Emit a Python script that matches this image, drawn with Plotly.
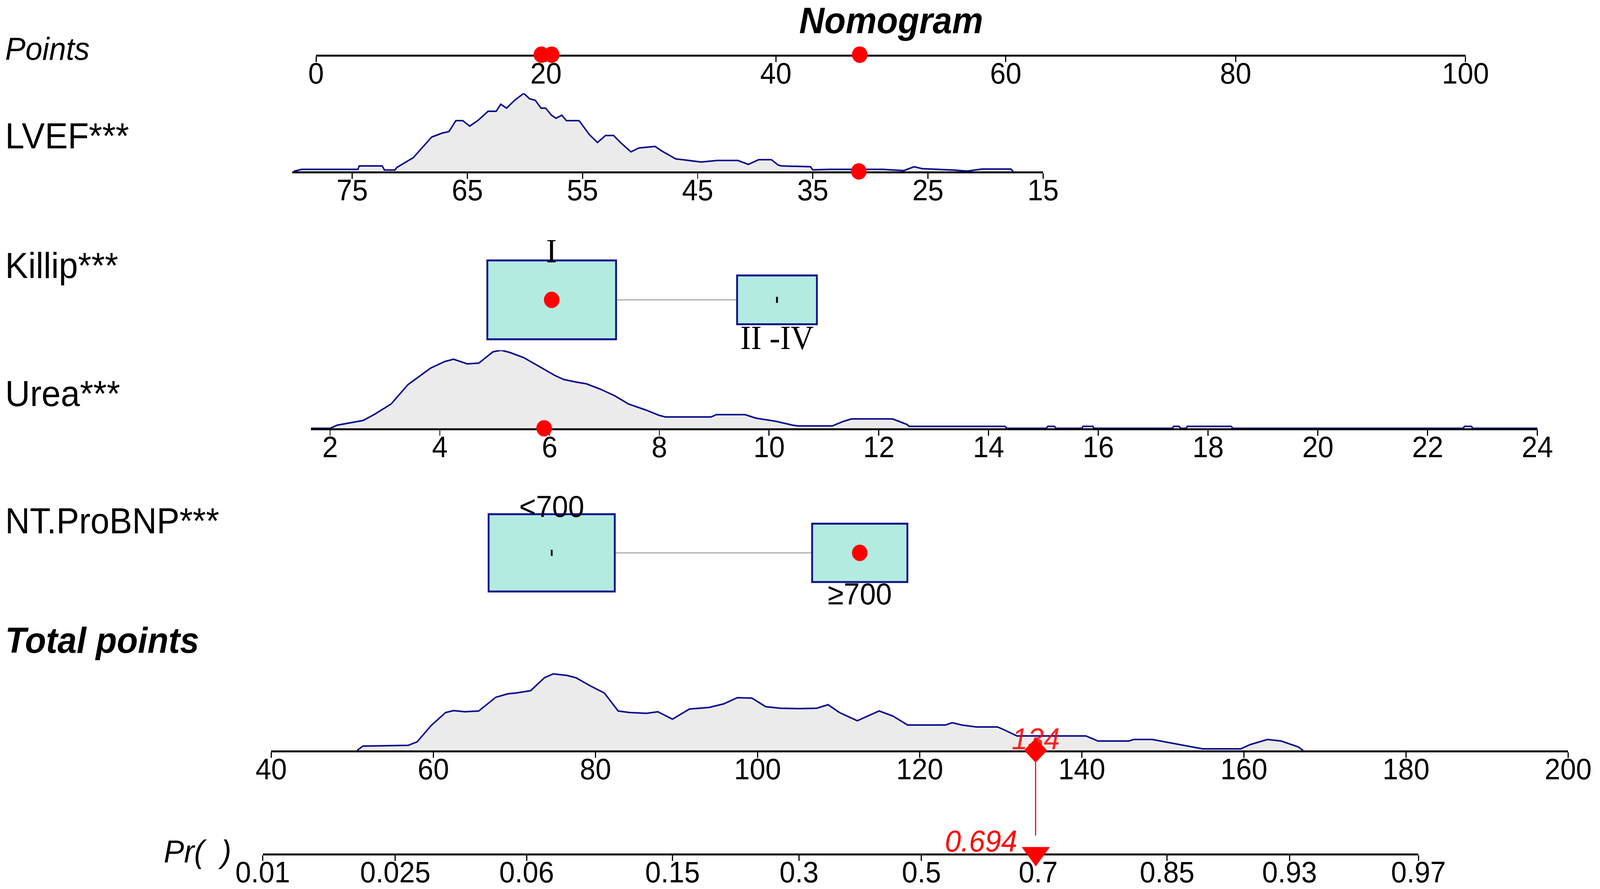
import plotly.graph_objects as go

W, H = 4318, 2277
FONT = 'Liberation Sans, Arial, sans-serif'
SERIF = 'Liberation Serif, Times New Roman, serif'

# ---- values ----
points_ticks = [0, 20, 40, 60, 80, 100]
lvef_ticks = [75, 65, 55, 45, 35, 25, 15]
urea_ticks = [2, 4, 6, 8, 10, 12, 14, 16, 18, 20, 22, 24]
total_ticks = [40, 60, 80, 100, 120, 140, 160, 180, 200]
pr_labels = ['0.01', '0.025', '0.06', '0.15', '0.3', '0.5', '0.7', '0.85', '0.93', '0.97']
pr_at_total = [38.95, 55.3, 71.5, 89.5, 105.1, 120.2, 134.6, 150.5, 165.6, 181.5]

# distributions (relative density, peak = 1)
lvef_value = [80.1, 79.4, 74.5, 74.4, 72.4, 72.2, 71.3, 71.1, 69.7, 69.0,
              68.1, 67.2, 66.6, 66.0, 65.4, 64.8, 64.1, 63.2, 62.5, 62.1,
              61.6, 60.9, 60.1, 59.6, 59.1, 58.6, 58.2, 57.7, 57.3, 56.8,
              56.4, 55.9, 55.3, 54.4, 53.7, 53.0, 52.3, 51.7, 50.8, 50.1,
              48.7, 48.1, 46.9, 46.3, 44.7, 43.3, 41.5, 40.6, 39.7, 38.6,
              38.0, 37.7, 35.2, 35.0, 33.5, 28.9, 27.1, 26.2, 25.5, 22.8,
              21.6, 20.3, 17.8, 17.6]
lvef_density = [0, 0.026, 0.026, 0.07, 0.07, 0.018, 0.018, 0.053, 0.175, 0.29,
                0.44, 0.49, 0.51, 0.65, 0.65, 0.58, 0.65, 0.77, 0.77, 0.86,
                0.81, 0.91, 1.0, 0.93, 0.91, 0.81, 0.81, 0.72, 0.68, 0.72,
                0.65, 0.65, 0.65, 0.47, 0.37, 0.46, 0.46, 0.37, 0.25, 0.30,
                0.32, 0.26, 0.16, 0.15, 0.12, 0.14, 0.14, 0.09, 0.15, 0.15,
                0.08, 0.07, 0.06, 0.02, 0.026, 0.026, 0.01, 0.06, 0.035, 0.018,
                0.004, 0.03, 0.03, 0]

urea_value = [1.65, 2.0, 2.13, 2.6, 2.8, 3.11, 3.42, 3.83, 4.09, 4.25,
              4.5, 4.71, 4.97, 5.12, 5.28, 5.53, 5.79, 6.1, 6.26, 6.46,
              6.67, 6.93, 7.19, 7.44, 7.75, 8.0, 8.11, 8.94, 9.04, 9.56,
              9.76, 10.12, 10.43, 10.53, 11.15, 11.36, 11.5, 12.25, 12.38, 12.51,
              12.55, 14.3, 14.33, 15.05, 15.08, 15.2, 15.23, 15.7, 15.72, 15.9,
              15.92, 17.35, 17.37, 17.47, 17.5, 17.6, 17.62, 18.42, 18.45, 22.65,
              22.67, 22.8, 22.82, 24.0]
urea_density = [0, 0, 0.04, 0.1, 0.175, 0.31, 0.56, 0.77, 0.855, 0.885,
                0.825, 0.835, 0.98, 1.0, 0.97, 0.905, 0.8, 0.675, 0.625, 0.595,
                0.57, 0.5, 0.415, 0.31, 0.235, 0.165, 0.145, 0.145, 0.175, 0.175,
                0.13, 0.09, 0.04, 0.03, 0.03, 0.09, 0.12, 0.12, 0.085, 0.05,
                0.025, 0.025, 0, 0, 0.025, 0.025, 0, 0, 0.025, 0.025,
                0, 0, 0.025, 0.025, 0, 0, 0.025, 0.025, 0, 0,
                0.025, 0.025, 0, 0]

total_value = [50.6, 51.3, 56.9, 58.0, 59.7, 61.5, 62.5, 63.9, 65.6, 67.7,
               69.2, 70.2, 72.0, 73.7, 74.8, 76.5, 77.6, 79.3, 81.1, 82.8,
               84.2, 86.3, 87.7, 89.5, 91.6, 94.0, 95.8, 97.5, 99.3, 101.0,
               102.8, 105.2, 107.3, 108.7, 110.1, 112.3, 115.0, 116.7, 118.5, 123.2,
               124.0, 125.2, 127.0, 129.6, 130.5, 132.0, 140.5, 142.0, 145.8, 146.4,
               148.7, 151.1, 152.9, 154.9, 159.6, 160.8, 162.9, 164.6, 166.7, 167.3]
total_density = [0, 0.055, 0.065, 0.11, 0.315, 0.485, 0.51, 0.495, 0.505, 0.68,
                 0.725, 0.735, 0.765, 0.93, 0.98, 0.96, 0.93, 0.83, 0.735, 0.505,
                 0.485, 0.475, 0.495, 0.4, 0.53, 0.55, 0.595, 0.675, 0.67, 0.56,
                 0.54, 0.535, 0.54, 0.585, 0.485, 0.38, 0.505, 0.44, 0.325, 0.325,
                 0.355, 0.325, 0.3, 0.3, 0.26, 0.185, 0.185, 0.12, 0.12, 0.14,
                 0.14, 0.095, 0.06, 0.02, 0.02, 0.075, 0.14, 0.12, 0.045, 0]

# categorical predictors: points of each level and relative box size (frequency)
killip_levels = ['I', 'II -IV']
killip_points = [20.5, 40.1]
killip_size = [1.0, 0.62]
ntbnp_levels = ['<700', '≥700']
ntbnp_points = [20.5, 47.3]
ntbnp_size = [0.98, 0.74]

# the highlighted patient
patient_lvef = 31
patient_killip = 'I'
patient_urea = 5.9
patient_ntbnp = '≥700'
patient_points = [47.3, 20.5, 19.6, 47.3]
patient_total = 134.3
patient_pr = 0.694

# ---- layout helpers (pixel positions of the rows) ----
def fx(px):
    return px / W


def fy(py):
    return 1 - py / H


RED = '#ff0000'
NAVY = '#0c0c8c'
BOX_LINE = '#12128c'
BOX_FILL = '#b3ebe1'
BOX_W = 11.2   # points, for size 1
BOX_H = 202    # px, for size 1

axis_style = dict(showline=True, linecolor='black', linewidth=5, ticks='outside',
                  ticklen=14, tickwidth=3, tickcolor='black', showgrid=False,
                  zeroline=False, layer='below traces', fixedrange=True,
                  ticklabelstandoff=-36,
                  tickfont=dict(family=FONT, size=76, color='black'))

fig = go.Figure()
layout = {}


def row(n, x_rng, x_px, y_rng, y_px, ticks=None, ticktext=None):
    xa = 'xaxis' if n == 1 else 'xaxis%d' % n
    ya = 'yaxis' if n == 1 else 'yaxis%d' % n
    xr = 'x' if n == 1 else 'x%d' % n
    yr = 'y' if n == 1 else 'y%d' % n
    if ticks is None:
        layout[xa] = dict(domain=[fx(x_px[0]), fx(x_px[1])], range=x_rng, anchor=yr,
                          visible=False, fixedrange=True)
    else:
        ax = dict(axis_style)
        ax.update(domain=[fx(x_px[0]), fx(x_px[1])], range=x_rng, anchor=yr,
                  tickmode='array', tickvals=ticks,
                  ticktext=ticktext if ticktext else [str(t) for t in ticks])
        layout[xa] = ax
    layout[ya] = dict(domain=[fy(y_px[0]), fy(y_px[1])], range=y_rng, anchor=xr,
                      visible=False, fixedrange=True)
    return xr, yr


# rows: points, LVEF, Killip, Urea, NT.ProBNP, total points, probability
x1, y1 = row(1, [0, 100], (853, 3955), [0, 1], (140, 90), points_ticks)
x2, y2 = row(2, [80.2, 15], (789, 2815), [0, 1], (439, 239), lvef_ticks)
x3, y3 = row(3, [0, 100], (853, 3955), [-110, 110], (878, 658))
x4, y4 = row(4, [1.65, 24], (839, 4149), [0, 1], (1097, 897), urea_ticks)
x5, y5 = row(5, [0, 100], (853, 3955), [-110, 110], (1526, 1306))
x6, y6 = row(6, [40, 200], (732, 4232), [0, 1], (1922, 1722), total_ticks)
x7, y7 = row(7, [38.95, 181.5], (709, 3828), [0, 1], (2186, 2136), pr_at_total, pr_labels)


def density(xs, ys, xr, yr):
    fig.add_trace(go.Scatter(x=xs, y=ys, xaxis=xr, yaxis=yr, mode='lines',
                             fill='tozeroy', fillcolor='#ebebeb',
                             line=dict(color=NAVY, width=4), hoverinfo='skip',
                             showlegend=False))


def red_dot(xs, xr, yr, y=0):
    fig.add_trace(go.Scatter(x=xs, y=[y] * len(xs), xaxis=xr, yaxis=yr, mode='markers',
                             marker=dict(color=RED, size=42, line=dict(width=0)),
                             cliponaxis=False, showlegend=False, hoverinfo='skip'))


shapes = []
annotations = []


def category_row(levels, pts, sizes, chosen, xr, yr, label_side):
    shapes.append(dict(type='line', xref=xr, yref=yr,
                       x0=pts[0] + sizes[0] * BOX_W / 2, x1=pts[1] - sizes[1] * BOX_W / 2,
                       y0=0, y1=0, line=dict(color='#bdbdbd', width=4), layer='below'))
    for i, (lev, p, s) in enumerate(zip(levels, pts, sizes)):
        hw, hh = s * BOX_W / 2, s * BOX_H / 2
        shapes.append(dict(type='rect', xref=xr, yref=yr, x0=p - hw, x1=p + hw,
                           y0=-hh, y1=hh, fillcolor=BOX_FILL,
                           line=dict(color=BOX_LINE, width=5), layer='below'))
        above = label_side[i] == 'top'
        annotations.append(dict(xref=xr, yref=yr, x=p, y=hh if above else -hh,
                                text=lev, showarrow=False,
                                yanchor='bottom' if above else 'top',
                                yshift=-26 if above else 16,
                                font=dict(family=SERIF if xr == x3 else FONT,
                                          size=86 if xr == x3 else 78, color='black')))
    fig.add_trace(go.Scatter(x=pts, y=[0] * len(pts), xaxis=xr, yaxis=yr, mode='markers',
                             marker=dict(symbol='line-ns', size=11,
                                         line=dict(color='black', width=5)),
                             showlegend=False, hoverinfo='skip'))
    red_dot([pts[levels.index(chosen)]], xr, yr)


# points scale
red_dot(patient_points, x1, y1)

# LVEF
density(lvef_value, lvef_density, x2, y2)
red_dot([patient_lvef], x2, y2)

# Killip
category_row(killip_levels, killip_points, killip_size, patient_killip, x3, y3,
             ['top', 'bottom'])

# Urea
density(urea_value, urea_density, x4, y4)
red_dot([patient_urea], x4, y4)

# NT.ProBNP
category_row(ntbnp_levels, ntbnp_points, ntbnp_size, patient_ntbnp, x5, y5,
             ['top', 'bottom'])

# total points
density(total_value, total_density, x6, y6)
fig.add_trace(go.Scatter(x=[patient_total], y=[0], xaxis=x6, yaxis=y6, mode='markers',
                         marker=dict(symbol='diamond', color=RED, size=48, line=dict(width=0)),
                         cliponaxis=False, showlegend=False, hoverinfo='skip'))
annotations.append(dict(xref=x6, yref=y6, x=patient_total, y=0,
                        text='<i>%d</i>' % patient_total,
                        showarrow=False, yanchor='bottom', yshift=-16,
                        font=dict(family=FONT, size=78, color='rgba(255,0,0,0.85)')))
shapes.append(dict(type='line', xref=x6, yref='paper', x0=patient_total, x1=patient_total,
                   y0=fy(1922), y1=fy(2140), line=dict(color=RED, width=3)))

# probability
fig.add_trace(go.Scatter(x=[patient_total], y=[0], xaxis=x7, yaxis=y7, mode='markers',
                         marker=dict(symbol='triangle-down', color=RED, size=66,
                                     line=dict(width=0)),
                         cliponaxis=False, showlegend=False, hoverinfo='skip'))
annotations.append(dict(xref=x7, yref=y7, x=patient_total, y=0, text='<i>%.3f</i>' % patient_pr,
                        showarrow=False, xanchor='right', yanchor='bottom', xshift=-48,
                        yshift=-14, font=dict(family=FONT, size=78, color=RED)))

# the row titles
left_labels = [('<i>Points</i>', 125, 82), ('LVEF***', 348, 93), ('Killip***', 680, 93),
               ('Urea***', 1008, 93), ('NT.ProBNP***', 1334, 92),
               ('<b><i>Total points</i></b>', 1640, 93)]
for txt, ypx, size in left_labels:
    annotations.append(dict(xref='paper', yref='paper', x=fx(12), y=fy(ypx), text=txt,
                            xanchor='left', yanchor='middle', showarrow=False,
                            font=dict(family=FONT, size=size, color='black')))
annotations.append(dict(xref='paper', yref='paper', x=fx(626), y=fy(2180),
                        text='<i>Pr(  )</i>', xanchor='right', yanchor='middle',
                        showarrow=False, font=dict(family=FONT, size=82, color='black')))
annotations.append(dict(xref='paper', yref='paper', x=fx(2405), y=fy(52),
                        text='<b><i>Nomogram</i></b>', xanchor='center', yanchor='middle',
                        showarrow=False, font=dict(family=FONT, size=94, color='black')))

fig.update_layout(**layout)
fig.update_layout(width=W, height=H, margin=dict(l=0, r=0, t=0, b=0),
                  template='none', paper_bgcolor='white', plot_bgcolor='white',
                  showlegend=False, shapes=shapes, annotations=annotations)

# stretch the figure onto the whole browser window, whatever its css size is
fit_script = """
var gd = document.getElementById('{plot_id}');
document.body.style.margin = '0';
document.body.style.overflow = 'hidden';
var sx = window.innerWidth / %d, sy = window.innerHeight / %d;
gd.style.transformOrigin = '0 0';
gd.style.transform = 'scale(' + sx + ',' + sy + ')';
""" % (W, H)

fig.write_html('out.html', config={'displayModeBar': False}, post_script=fit_script)
